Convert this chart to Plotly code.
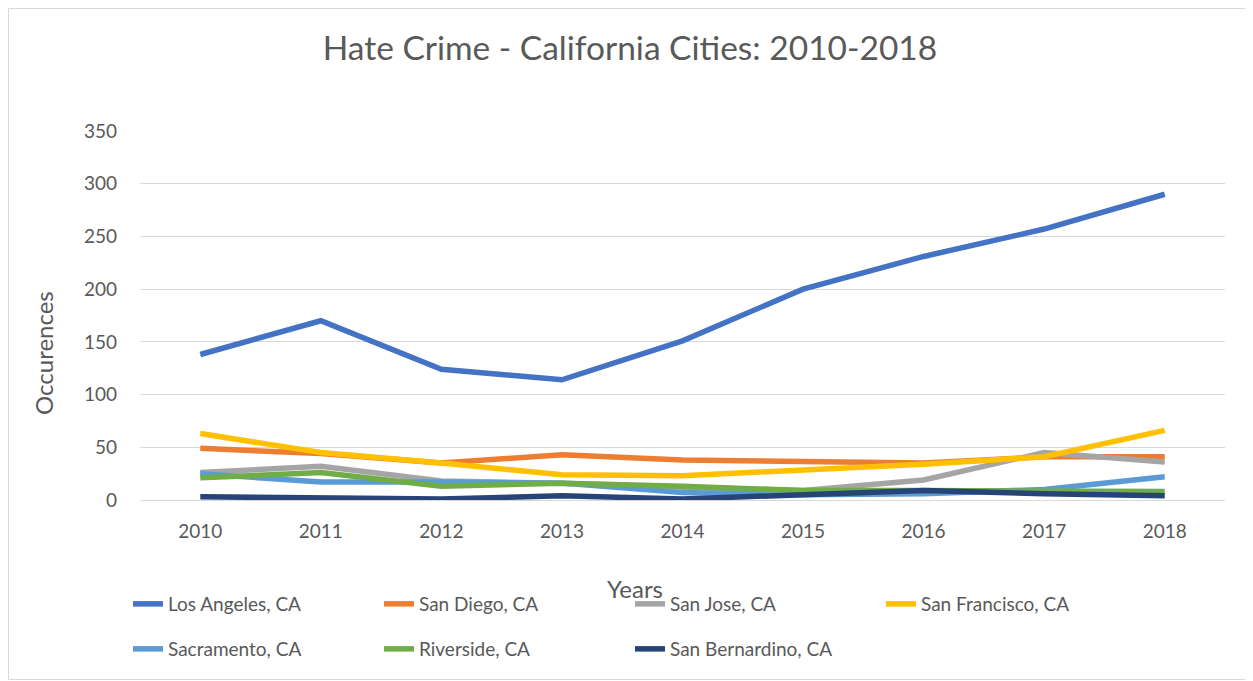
import plotly.graph_objects as go

years = [2010, 2011, 2012, 2013, 2014, 2015, 2016, 2017, 2018]
los_angeles = [138, 170, 124, 114, 151, 200, 231, 257, 290]
san_diego = [49, 44, 35, 43, 38, 36, 35, 41, 41]
san_jose = [26, 32, 18, 16, 12, 9, 19, 45, 36]
san_francisco = [63, 45, 35, 24, 23, 28, 34, 41, 66]
sacramento = [25, 17, 17, 16, 7, 5, 6, 10, 22]
riverside = [21, 26, 13, 16, 13, 9, 9, 8, 8]
san_bernardino = [3, 2, 1, 4, 1, 5, 9, 6, 4]
y_ticks = [0, 50, 100, 150, 200, 250, 300, 350]

series = [
    ("Los Angeles, CA", los_angeles, "#4472C4", "legend"),
    ("San Diego, CA", san_diego, "#ED7D31", "legend"),
    ("San Jose, CA", san_jose, "#A5A5A5", "legend"),
    ("San Francisco, CA", san_francisco, "#FFC000", "legend"),
    ("Sacramento, CA", sacramento, "#5B9BD5", "legend2"),
    ("Riverside, CA", riverside, "#70AD47", "legend2"),
    ("San Bernardino, CA", san_bernardino, "#264478", "legend2"),
]

FONT = "Lato"
GREY = "#595959"

# page body has an 8px default margin: figure drawn at (8, 8)
OFF = 8
W, H = 1253 - OFF, 681 - OFF
L, T = 140 - OFF, 131 - OFF
PW, PH = 1085, 369
R = W - L - PW
B = H - T - PH

fig = go.Figure()
for name, vals, col, lg in series:
    fig.add_trace(go.Scatter(
        x=years, y=vals, name=name, mode="lines", legend=lg,
        line=dict(color=col, width=5.5, shape="linear"),
    ))

legend_common = dict(orientation="h", xanchor="left", yanchor="middle",
                     entrywidth=206, entrywidthmode="pixels",
                     font=dict(family=FONT, size=19, color=GREY),
                     itemwidth=30, bgcolor="rgba(0,0,0,0)",
                     x=(128 - 140) / PW)

fig.update_layout(
    width=W, height=H,
    margin=dict(l=L, r=R, t=T, b=B, autoexpand=False),
    paper_bgcolor="white", plot_bgcolor="white",
    font=dict(family=FONT, color=GREY, size=18),
    title=dict(text="Hate Crime - California Cities: 2010-2018",
               x=(630 - OFF) / W, xanchor="center", xref="container",
               y=1 - (48 - OFF) / H, yanchor="middle", yref="container",
               font=dict(family=FONT, size=33.5, color=GREY)),
    showlegend=True,
    legend=dict(legend_common, y=-(604 - 500) / PH),
    legend2=dict(legend_common, y=-(649 - 500) / PH),
    xaxis=dict(
        range=[2009.5, 2018.5], tickmode="array", tickvals=years,
        ticktext=[str(y) for y in years], automargin=False,
        showgrid=False, zeroline=False,
        showline=True, linecolor="#D9D9D9", linewidth=1,
        ticks="", ticklabelstandoff=14, tickfont=dict(size=19, color=GREY),
    ),
    yaxis=dict(
        range=[0, 350], tickmode="array", tickvals=y_ticks, automargin=False,
        showgrid=True, gridcolor="#D9D9D9", gridwidth=1,
        zeroline=False, showline=False, ticks="",
        ticklabelstandoff=22,
        tickfont=dict(size=19, color=GREY),
    ),
    annotations=[
        dict(text="Years", xref="paper", yref="paper",
             x=(635 - 140) / PW, y=-(588 - 500) / PH,
             xanchor="center", yanchor="middle", showarrow=False,
             font=dict(family=FONT, size=24, color=GREY)),
        dict(text="Occurences", xref="paper", yref="paper", textangle=-90,
             x=(43 - 140) / PW, y=(500 - 353) / PH,
             xanchor="center", yanchor="middle", showarrow=False,
             font=dict(family=FONT, size=24, color=GREY)),
    ],
    shapes=[dict(type="rect", xref="paper", yref="paper",
                 x0=-(L - 0.5) / PW, x1=1 + (R - 1.5) / PW,
                 y0=-(B - 1.5) / PH, y1=1 + (T - 0.5) / PH,
                 line=dict(color="#D9D9D9", width=1), fillcolor="rgba(0,0,0,0)",
                 layer="below")],
)

fig.write_html("out.html")
